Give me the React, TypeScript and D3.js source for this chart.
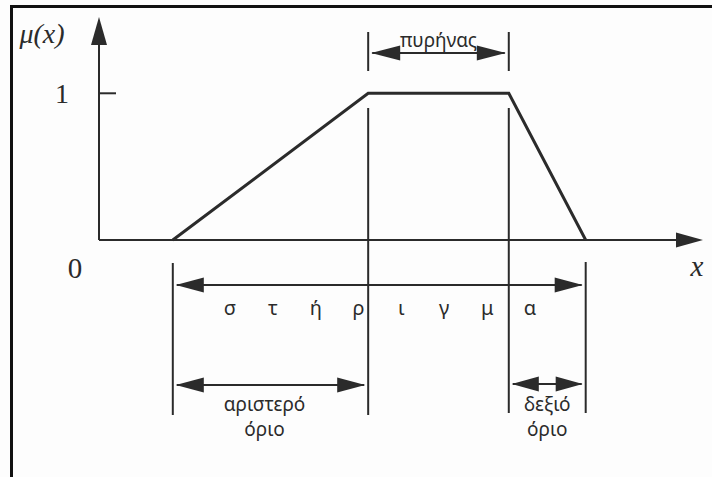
import React from 'react';
import * as d3 from 'd3';

// Trapezoidal membership function: breakpoints (x, μ)
const breakX = [1.9, 6.93, 10.55, 12.53];
const breakMu = [0, 1, 1, 0];
const yTickValues = [1];
const yTickLabels = ['1'];
const originLabel = '0';
const coreLabel = 'πυρήνας';
const supportLetters = ['σ', 'τ', 'ή', 'ρ', 'ι', 'γ', 'μ', 'α'];
const leftBoundaryLabel = ['αριστερό', 'όριο'];
const rightBoundaryLabel = ['δεξιό', 'όριο'];

const W = 712;
const H = 477;
const INK = '#2b2b2b';
const SANS = '"Noto Sans", "DejaVu Sans", sans-serif';
const SERIF = '"Liberation Serif", "DejaVu Serif", serif';

const x = d3.scaleLinear().domain([0, 15.55]).range([99, 703]);
const y = d3.scaleLinear().domain([0, 1.52]).range([240, 17]);

// filled triangular arrowhead, tip at (tx, ty), pointing in direction dir
function head(tx: number, ty: number, dir: 'left' | 'right' | 'up', len = 27, half = 7.5) {
  let pts: [number, number][];
  if (dir === 'left') pts = [[tx, ty], [tx + len, ty - half], [tx + len, ty + half]];
  else if (dir === 'right') pts = [[tx, ty], [tx - len, ty - half], [tx - len, ty + half]];
  else pts = [[tx, ty], [tx - half, ty + len], [tx + half, ty + len]];
  return <polygon points={pts.map((p) => p.join(',')).join(' ')} fill={INK} />;
}

function DoubleArrow({ x0, x1, yy, len = 27 }: { x0: number; x1: number; yy: number; len?: number }) {
  return (
    <g>
      <line x1={x0 + 4} x2={x1 - 4} y1={yy} y2={yy} stroke={INK} strokeWidth={2} />
      {head(x0 + 3, yy, 'left', len)}
      {head(x1 - 3, yy, 'right', len)}
    </g>
  );
}

export default function App() {
  const pts = breakX.map((bx, i) => [x(bx), y(breakMu[i])] as [number, number]);
  const trapezoid = d3.line()(pts) as string;
  const [xa, xb, xc, xd] = breakX.map((v) => x(v));
  const y0 = y(0);
  const letterX = d3.scalePoint<string>().domain(supportLetters.map((l, i) => l + i)).range([230, 530]);

  return (
    <svg width={W} height={H} style={{ position: 'absolute', left: 0, top: 0, background: '#fdfdfd' }}>
      <rect x={0} y={0} width={W} height={H} fill="#fdfdfd" />
      {/* frame */}
      <line x1={11.5} x2={11.5} y1={5} y2={H} stroke="#111" strokeWidth={3} />
      <line x1={10} x2={W} y1={6.5} y2={6.5} stroke="#111" strokeWidth={3} />

      {/* axes */}
      <line x1={x(0)} x2={x(0)} y1={y0} y2={y.range()[1] + 20} stroke={INK} strokeWidth={2} />
      {head(x(0), y.range()[1], 'up', 28, 8)}
      <line x1={x(0)} x2={x.range()[1] - 20} y1={y0} y2={y0} stroke={INK} strokeWidth={2} />
      {head(x.range()[1], y0, 'right', 27, 7.5)}

      {yTickValues.map((v, i) => (
        <g key={v}>
          <line x1={x(0)} x2={x(0) + 17} y1={y(v)} y2={y(v)} stroke={INK} strokeWidth={2} />
          <text x={62} y={y(v) + 10} fontFamily={SERIF} fontSize={28} fill={INK} textAnchor="middle">
            {yTickLabels[i]}
          </text>
        </g>
      ))}
      <text x={75} y={278} fontFamily={SERIF} fontSize={29} fill={INK} textAnchor="middle">
        {originLabel}
      </text>
      <text x={42} y={43} fontFamily={SERIF} fontSize={28} fontStyle="italic" fill={INK} textAnchor="middle">
        μ(x)
      </text>
      <text x={697} y={276} fontFamily={SERIF} fontSize={29} fontStyle="italic" fill={INK} textAnchor="middle">
        x
      </text>

      {/* membership function */}
      <path d={trapezoid} fill="none" stroke={INK} strokeWidth={3} strokeLinejoin="miter" />

      {/* core */}
      <line x1={xb} x2={xb} y1={32} y2={71} stroke={INK} strokeWidth={2} />
      <line x1={xc} x2={xc} y1={32} y2={71} stroke={INK} strokeWidth={2} />
      <DoubleArrow x0={xb} x1={xc} yy={53} len={29} />
      <text x={(xb + xc) / 2} y={47} fontFamily={SANS} fontSize={19} fill={INK} textAnchor="middle">
        {coreLabel}
      </text>

      {/* guide lines */}
      <line x1={xa} x2={xa} y1={263} y2={415} stroke={INK} strokeWidth={2} />
      <line x1={xb} x2={xb} y1={108} y2={415} stroke={INK} strokeWidth={2} />
      <line x1={xc} x2={xc} y1={108} y2={413} stroke={INK} strokeWidth={2} />
      <line x1={xd} x2={xd} y1={262} y2={413} stroke={INK} strokeWidth={2} />

      {/* support */}
      <DoubleArrow x0={xa} x1={xd} yy={285} len={28} />
      {supportLetters.map((l, i) => (
        <text key={i} x={letterX(l + i)} y={315} fontFamily={SANS} fontSize={20} fill={INK} textAnchor="middle">
          {l}
        </text>
      ))}

      {/* left boundary */}
      <DoubleArrow x0={xa} x1={xb} yy={385} len={28} />
      {leftBoundaryLabel.map((t, i) => (
        <text key={i} x={(xa + xb) / 2 - 6} y={411 + i * 25} fontFamily={SANS} fontSize={19} fill={INK} textAnchor="middle">
          {t}
        </text>
      ))}

      {/* right boundary */}
      <DoubleArrow x0={xc} x1={xd} yy={384} len={27} />
      {rightBoundaryLabel.map((t, i) => (
        <text key={i} x={(xc + xd) / 2} y={411 + i * 25} fontFamily={SANS} fontSize={19} fill={INK} textAnchor="middle">
          {t}
        </text>
      ))}
    </svg>
  );
}
